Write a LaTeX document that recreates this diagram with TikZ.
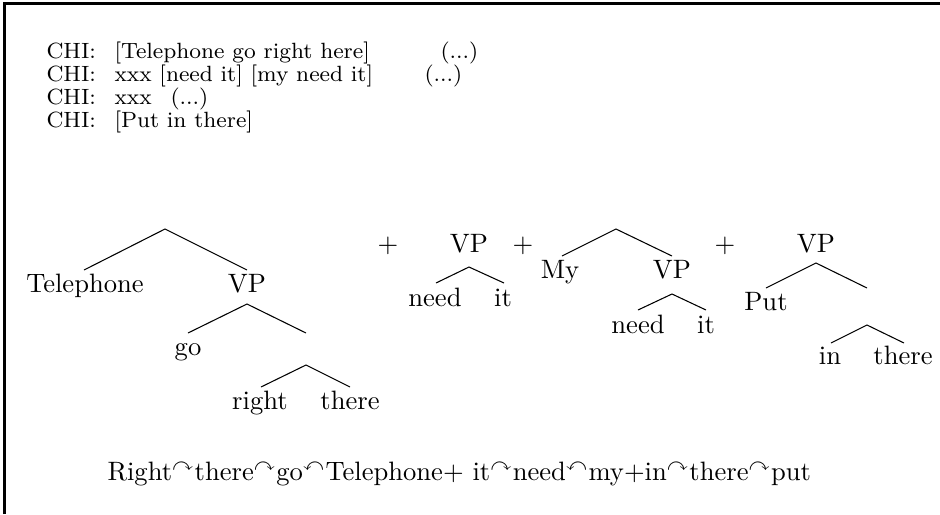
\documentclass[tikz,border=0pt]{standalone}
\usepackage{amssymb}
\begin{document}
\begin{tikzpicture}[x=0.376pt,y=-0.376pt,
  lbl/.style={anchor=base,inner sep=0pt,font=\fontsize{10}{12}\selectfont},
  chi/.style={anchor=base west,inner sep=0pt,font=\fontsize{8.3}{10}\selectfont},
  br/.style={line width=0.4pt},
  frame/.style={line width=1.1pt}]
\useasboundingbox (0,0) rectangle (940,514);
% frame
\coordinate (fb) at (4.5,514);
\coordinate (fc) at (4.5,3.5);
\coordinate (fr) at (940,3.5);
\draw[frame] (fb) -- (fc) -- (fr);
% transcript
\node[chi] (c1) at (46,58) {CHI:};
\node[chi] (c1b) at (114,58) {[Telephone go right here]};
\node[chi] (c1c) at (440,58) {(...)};
\node[chi] (c2) at (46,81) {CHI:};
\node[chi] (c2b) at (114,81) {xxx [need it] [my need it]};
\node[chi] (c2c) at (424,81) {(...)};
\node[chi] (c3) at (46,104) {CHI:};
\node[chi] (c3b) at (114,104) {xxx};
\node[chi] (c3c) at (170,104) {(...)};
\node[chi] (c4) at (46,127) {CHI:};
\node[chi] (c4b) at (114,127) {[Put in there]};
% tree 1
\coordinate (t1a) at (165,229);
\coordinate (t1l) at (84,270);
\coordinate (t1r) at (247,270);
\node[lbl] (tel) at (85,292) {Telephone};
\node[lbl] (vp1) at (247,292) {VP};
\coordinate (t1b) at (247,304);
\coordinate (t1bl) at (188,333);
\coordinate (t1br) at (306,333);
\node[lbl] (go) at (188,355) {go};
\coordinate (t1c) at (306,365);
\coordinate (t1cl) at (261,387);
\coordinate (t1cr) at (350,387);
\node[lbl] (right) at (260,409) {right};
\node[lbl] (there1) at (350,409) {there};
\draw[br] (t1l) -- (t1a) -- (t1r);
\draw[br] (t1bl) -- (t1b) -- (t1br);
\draw[br] (t1cl) -- (t1c) -- (t1cr);
% plus signs
\node[lbl] (p1) at (388,252) {+};
\node[lbl] (p2) at (523,252) {+};
\node[lbl] (p3) at (725,252) {+};
% tree 2
\node[lbl] (vp2) at (469,252) {VP};
\coordinate (t2a) at (469,267);
\coordinate (t2l) at (436,283);
\coordinate (t2r) at (504,283);
\node[lbl] (need2) at (435,306) {need};
\node[lbl] (it2) at (503,306) {it};
\draw[br] (t2l) -- (t2a) -- (t2r);
% tree 3
\coordinate (t3a) at (616,229);
\coordinate (t3l) at (562,256);
\coordinate (t3r) at (672,256);
\node[lbl] (my) at (560,278) {My};
\node[lbl] (vp3) at (672,278) {VP};
\coordinate (t3b) at (672,294);
\coordinate (t3bl) at (638,310);
\coordinate (t3br) at (706,310);
\node[lbl] (need3) at (638,333) {need};
\node[lbl] (it3) at (706,333) {it};
\draw[br] (t3l) -- (t3a) -- (t3r);
\draw[br] (t3bl) -- (t3b) -- (t3br);
% tree 4
\node[lbl] (vp4) at (816,252) {VP};
\coordinate (t4a) at (816,263);
\coordinate (t4l) at (766,288);
\coordinate (t4r) at (867,288);
\node[lbl] (put) at (766,310) {Put};
\coordinate (t4b) at (867,325);
\coordinate (t4bl) at (831,343);
\coordinate (t4br) at (904,343);
\node[lbl] (in) at (830,364) {in};
\node[lbl] (there4) at (903,364) {there};
\draw[br] (t4l) -- (t4a) -- (t4r);
\draw[br] (t4bl) -- (t4b) -- (t4br);
% bottom line
\node[lbl,anchor=base west] (seq) at (107,480) {Right$^\curvearrowright$there$^\curvearrowright$go$^\curvearrowleft$Telephone+ it$^\curvearrowright$need$^\curvearrowleft$my+in$^\curvearrowright$there$^\curvearrowright$put};
\end{tikzpicture}
\end{document}
